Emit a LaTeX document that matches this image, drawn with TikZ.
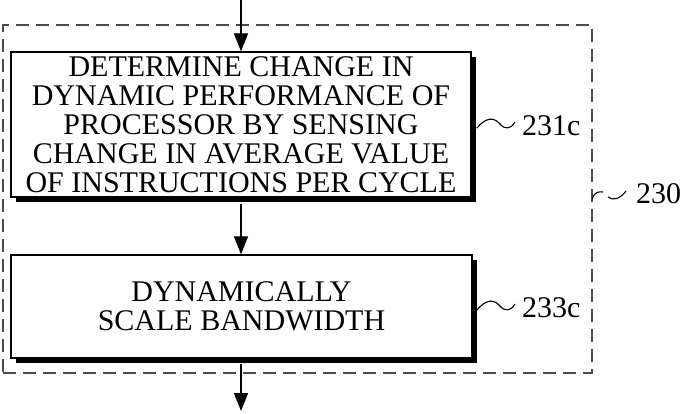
\documentclass[tikz,border=0pt]{standalone}
\usepackage{fontspec}
\setmainfont{Liberation Serif}
\usetikzlibrary{arrows.meta,shadows}
\begin{document}
\begin{tikzpicture}[x=1pt,y=-1pt,
  stepbox/.style={draw,line width=1.3pt,fill=white,rectangle,inner sep=0pt,
    align=center,font=\fontsize{30}{29}\selectfont,
    drop shadow={shadow xshift=5pt,shadow yshift=-5pt,fill=black,opacity=1}},
  flow/.style={line width=1.2pt,-{Triangle[length=18pt,width=14pt]}},
  group/.style={draw=black!70,line width=1.2pt,dash pattern=on 13pt off 7pt,rectangle,inner sep=0pt},
  reflabel/.style={font=\fontsize{30}{30}\selectfont,anchor=west,inner sep=0pt},
  squiggle/.style={line width=1.1pt}]
  \useasboundingbox (0,0) rectangle (681,413);

  % dashed group frame
  \node[group,minimum width=589pt,minimum height=348pt] (grp) at (297.5,199) {};

  % process steps
  \node[stepbox,minimum width=460pt,minimum height=145pt] (s1) at (241,124.5)
    {DETERMINE CHANGE IN\\DYNAMIC PERFORMANCE OF\\PROCESSOR BY SENSING\\CHANGE IN AVERAGE VALUE\\OF INSTRUCTIONS PER CYCLE};
  \node[stepbox,minimum width=461pt,minimum height=103pt] (s2) at (241.5,306.5)
    {DYNAMICALLY\\SCALE BANDWIDTH};

  % flow connectors
  \coordinate (in) at (241,0);
  \coordinate (out) at (241,411);
  \draw[flow] (in) -- (s1.north -| in);
  \draw[flow] (s1.south -| in) ++(0,6) -- (s2.north -| in);
  \draw[flow] (s2.south -| in) ++(0,5) -- (out);

  % reference numerals
  \node[reflabel] (l1) at (522,126) {231c};
  \node[reflabel] (l2) at (522,308) {233c};
  \node[reflabel] (l3) at (636,194) {230};

  \draw[squiggle] (477,128) .. controls (486,117) and (494,117) .. (500,124)
                            .. controls (505,130) and (511,129) .. (515,122);
  \draw[squiggle] (477,310) .. controls (486,299) and (494,299) .. (500,306)
                            .. controls (505,312) and (511,311) .. (515,304);
  \draw[squiggle] (592,199) .. controls (594,193) and (598,191) .. (603,192);
  \draw[squiggle] (608,197) .. controls (613,201) and (620,199) .. (626,191);
\end{tikzpicture}
\end{document}
